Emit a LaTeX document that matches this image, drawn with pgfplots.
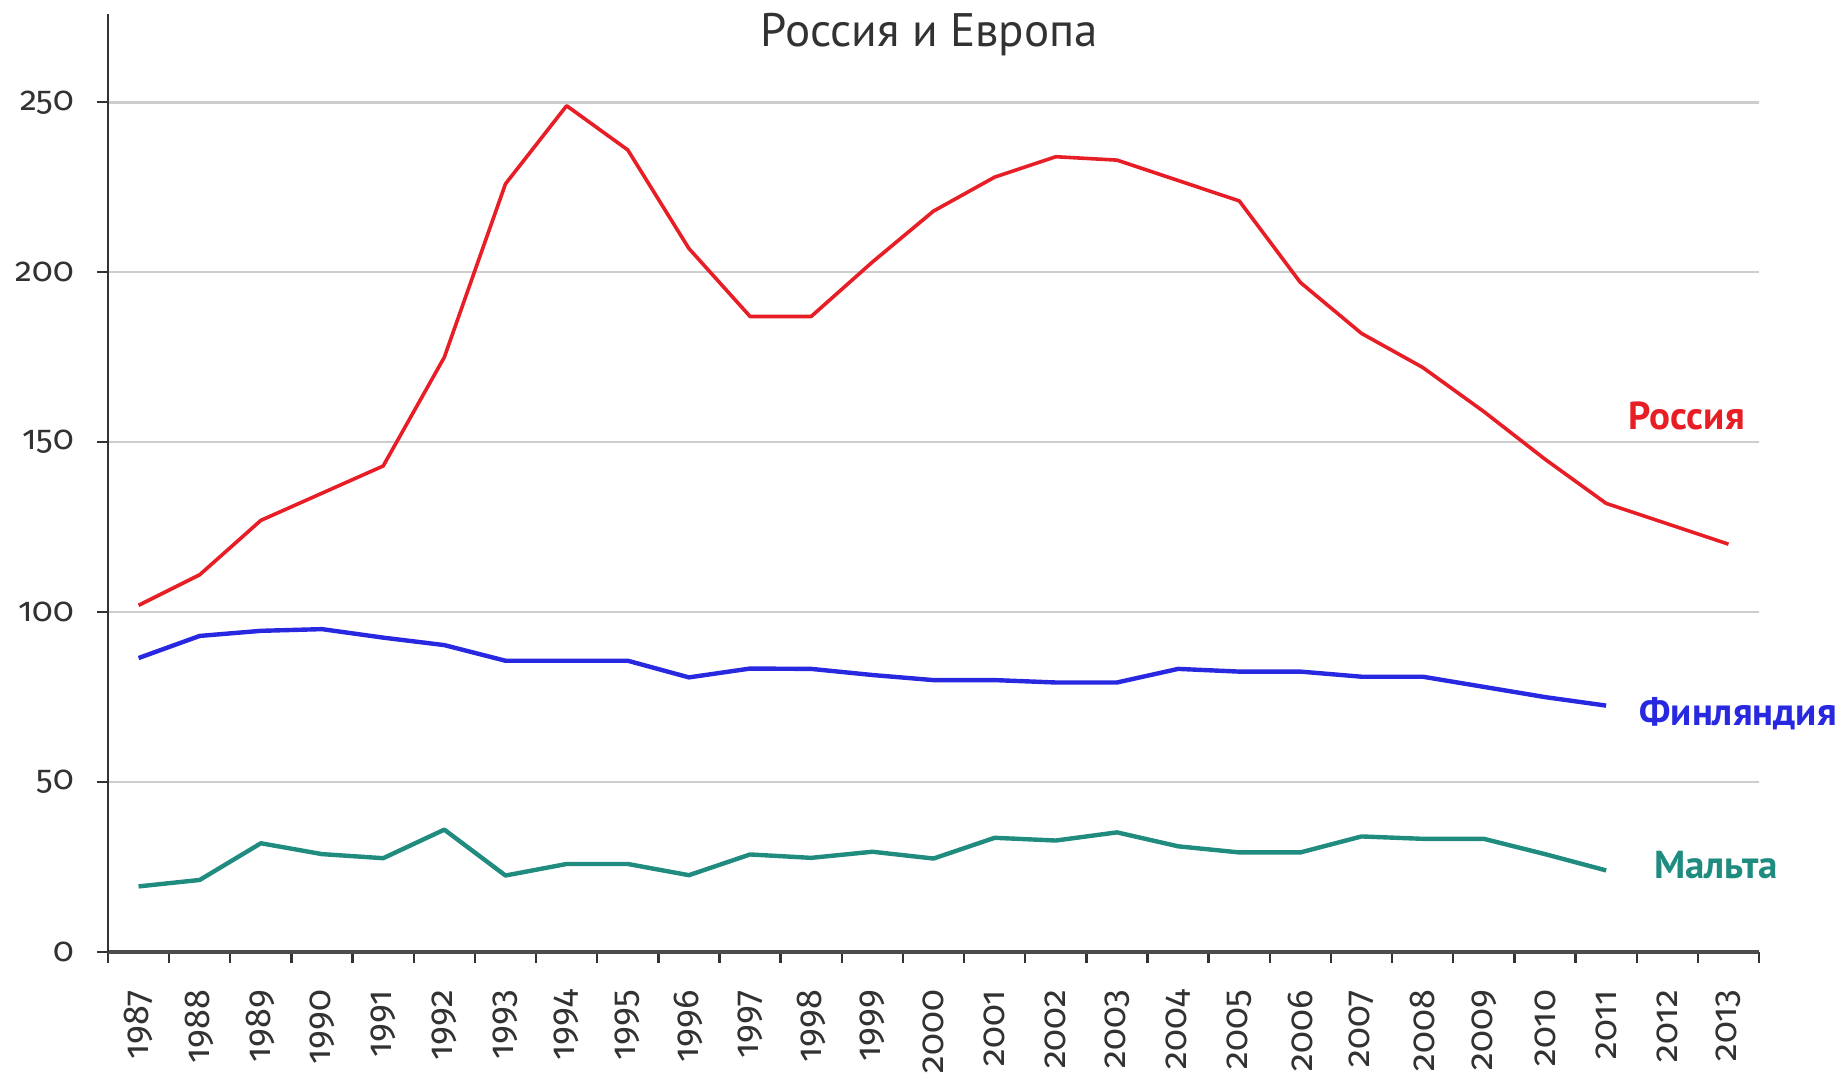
\documentclass[border=0pt]{standalone}
\usepackage{fontspec}
\setmainfont{PT Sans}
\newfontfamily\numfont[Numbers=OldStyle]{Fira Sans}
\usepackage{pgfplots}
\pgfplotsset{compat=1.18}
\definecolor{rusred}{RGB}{232,30,38}
\definecolor{finblue}{RGB}{40,40,225}
\definecolor{maltateal}{RGB}{32,140,128}
\definecolor{gridgray}{RGB}{205,205,205}
\definecolor{txtgray}{RGB}{50,50,50}
\pgfplotstableread{
i val
0 102
1 111
2 127
3 135
4 143
5 175
6 226
7 249
8 236
9 207
10 187
11 187
12 203
13 218
14 228
15 234
16 233
17 227
18 221
19 197
20 182
21 172
22 159
23 145
24 132
25 126
26 120
}\russia
\pgfplotstableread{
i val
0 86.5
1 93
2 94.5
3 95
4 92.5
5 90.3
6 85.7
7 85.7
8 85.7
9 80.8
10 83.4
11 83.3
12 81.5
13 80
14 80
15 79.3
16 79.3
17 83.3
18 82.5
19 82.5
20 81
21 81
22 78
23 75
24 72.5
}\finland
\pgfplotstableread{
i val
0 19.3
1 21.2
2 32
3 28.8
4 27.6
5 36
6 22.5
7 25.9
8 25.9
9 22.6
10 28.7
11 27.7
12 29.5
13 27.5
14 33.6
15 32.8
16 35.2
17 31.1
18 29.3
19 29.3
20 34
21 33.3
22 33.3
23 28.8
24 24
}\malta
\begin{document}
\begin{tikzpicture}
\path[use as bounding box] (0,0) rectangle (919.5pt,540.5pt);
\begin{axis}[
  at={(54pt,64.5pt)}, anchor=south west,
  scale only axis, width=825.5pt, height=469pt,
  xmin=-0.5, xmax=26.5, ymin=0, ymax=276,
  clip=false,
  axis x line*=bottom, axis y line*=left,
  x axis line style={draw=black!70, line width=1.6pt},
  y axis line style={draw=black!80, line width=1.1pt},
  xtick={-0.5,0.5,...,26.5},
  x tick label as interval,
  xticklabels={1987,1988,1989,1990,1991,1992,1993,1994,1995,1996,1997,1998,1999,2000,2001,2002,2003,2004,2005,2006,2007,2008,2009,2010,2011,2012,2013},
  ytick={0,50,100,150,200,250},
  yticklabels={0,50,100,150,200,250},
  tick align=outside,
  major tick length=5.5pt,
  xtick style={draw=black!80, line width=1.2pt},
  ytick style={draw=black!80, line width=1.1pt},
  ymajorgrids,
  grid style={draw=gridgray, line width=1.2pt},
  xticklabel shift=10pt,
  xticklabel style={font=\numfont\fontsize{18}{18}\selectfont, text=txtgray, rotate=90, anchor=east},
  yticklabel style={font=\numfont\fontsize{17}{17}\selectfont, text=txtgray, anchor=east, xshift=-8pt},
]
\addplot[rusred, line width=1.8pt, line join=round] table[x=i,y=val] {\russia};
\addplot[finblue, line width=2.2pt, line join=round] table[x=i,y=val] {\finland};
\addplot[maltateal, line width=2.2pt, line join=round] table[x=i,y=val] {\malta};
\node[font=\fontsize{23.5}{23.5}\selectfont, text=txtgray] at (axis cs:12.93,269.8) {Россия и Европа};
\node[font=\bfseries\fontsize{19.5}{19.5}\selectfont, text=rusred, anchor=east] at (axis cs:26.38,157.6) {Россия};
\node[font=\bfseries\fontsize{19.5}{19.5}\selectfont, text=finblue, anchor=west] at (axis cs:24.43,70) {Финляндия};
\node[font=\bfseries\fontsize{19.5}{19.5}\selectfont, text=maltateal, anchor=west] at (axis cs:24.67,25.5) {Мальта};
\end{axis}
\end{tikzpicture}
\end{document}
